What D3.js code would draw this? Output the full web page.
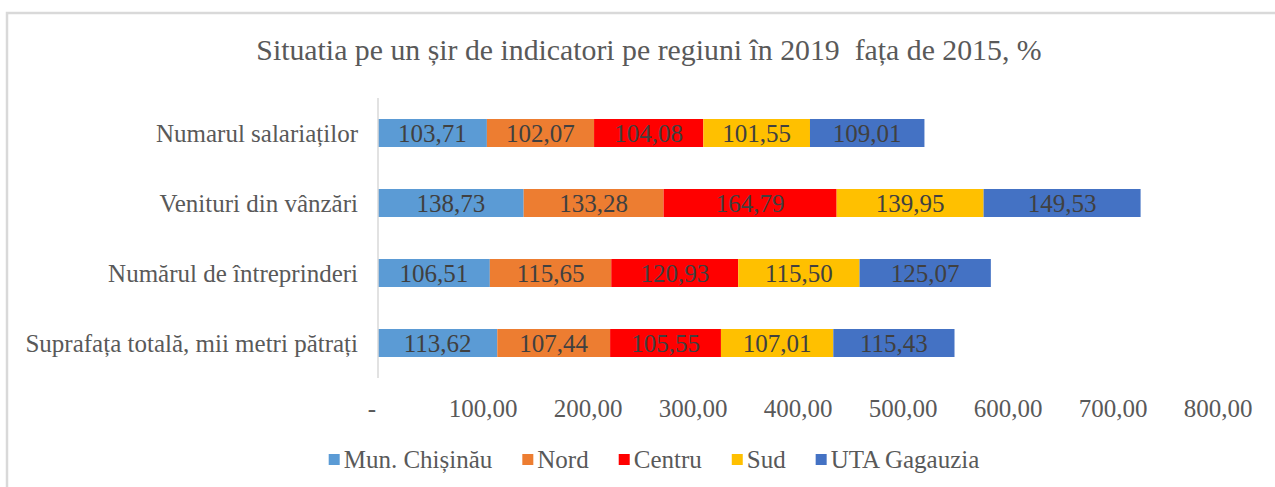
<!DOCTYPE html>
<html>
<head>
<meta charset="utf-8">
<style>
  body { margin: 0; background: #fff; }
  text { font-family: 'Liberation Serif', 'Times New Roman', serif; }
</style>
</head>
<body>
<svg width="1275" height="487"></svg>
<script src="https://cdnjs.cloudflare.com/ajax/libs/d3/7.8.5/d3.min.js"></script>
<script>

// categories, top to bottom
var categories = ["Numarul salariaților", "Venituri din vânzări", "Numărul de întreprinderi", "Suprafața totală, mii metri pătrați"];
var regions = ["Mun. Chișinău", "Nord", "Centru", "Sud", "UTA Gagauzia"];
var colors = ["#5B9BD5", "#ED7D31", "#FF0000", "#FFC000", "#4472C4"];

// values per region, same order as categories
var chisinau = [103.71, 138.73, 106.51, 113.62];
var nord     = [102.07, 133.28, 115.65, 107.44];
var centru   = [104.08, 164.79, 120.93, 105.55];
var sud      = [101.55, 139.95, 115.50, 107.01];
var gagauzia = [109.01, 149.53, 125.07, 115.43];

var tickValues = [0, 100, 200, 300, 400, 500, 600, 700, 800];

var series = [chisinau, nord, centru, sud, gagauzia];
var data = categories.map(function(c, i) {
  var row = {cat: c};
  regions.forEach(function(r, j) { row[r] = series[j][i]; });
  return row;
});

var svg = d3.select("svg");

// chart area border (Excel style)
svg.append("rect")
    .attr("x", 7).attr("y", 13)
    .attr("width", 1300).attr("height", 500)
    .attr("fill", "none")
    .attr("stroke", "#d9d9d9")
    .attr("stroke-width", 2.5);

svg.append("text")
    .attr("x", 649)
    .attr("y", 60)
    .attr("text-anchor", "middle")
    .attr("fill", "#595959")
    .style("font-size", "29.8px")
    .style("white-space", "pre")
    .text("Situatia pe un șir de indicatori pe regiuni în 2019  fața de 2015, %");

var x = d3.scaleLinear().domain([0, 800]).range([378, 1218]);
var y = d3.scaleBand().domain(categories).range([98, 378]).paddingInner(0.6).paddingOuter(0.3);
var z = d3.scaleOrdinal().domain(regions).range(colors);

var stacked = d3.stack().keys(regions)(data);

var layer = svg.selectAll(".serie")
    .data(stacked)
    .enter().append("g")
    .attr("class", "serie")
    .attr("fill", function(d) { return z(d.key); });

layer.selectAll("rect")
    .data(function(d) { return d; })
    .enter().append("rect")
    .attr("x", function(d) { return x(d[0]); })
    .attr("y", function(d) { return y(d.data.cat); })
    .attr("width", function(d) { return x(d[1]) - x(d[0]); })
    .attr("height", y.bandwidth());

var fmt = function(v) { return d3.format(".2f")(v).replace(".", ","); };

layer.selectAll("text")
    .data(function(d) { return d; })
    .enter().append("text")
    .attr("x", function(d) { return (x(d[0]) + x(d[1])) / 2; })
    .attr("y", function(d) { return y(d.data.cat) + y.bandwidth() / 2; })
    .attr("dy", "0.34em")
    .attr("text-anchor", "middle")
    .attr("fill", "#404040")
    .style("font-size", "25px")
    .text(function(d) { return fmt(d[1] - d[0]); });

// vertical axis line
svg.append("line")
    .attr("x1", x(0)).attr("x2", x(0))
    .attr("y1", y.range()[0]).attr("y2", y.range()[1])
    .attr("stroke", "#d9d9d9")
    .attr("stroke-width", 1.5);

// category labels
svg.selectAll(".cat")
    .data(categories)
    .enter().append("text")
    .attr("class", "cat")
    .attr("x", 358)
    .attr("y", function(d) { return y(d) + y.bandwidth() / 2; })
    .attr("dy", "0.34em")
    .attr("text-anchor", "end")
    .attr("fill", "#595959")
    .style("font-size", "25px")
    .text(function(d) { return d; });

// x tick labels
svg.selectAll(".tick")
    .data(tickValues)
    .enter().append("text")
    .attr("class", "tick")
    .attr("x", function(d) { return d === 0 ? x(d) - 6 : x(d); })
    .attr("y", 417)
    .attr("text-anchor", "middle")
    .attr("fill", "#595959")
    .style("font-size", "25px")
    .text(function(d) { return d === 0 ? "-" : fmt(d); });

// legend
var legend = svg.append("g");
var lx = 0;
regions.forEach(function(r) {
  var item = legend.append("g").attr("transform", "translate(" + lx + ",0)");
  item.append("rect")
      .attr("x", 0).attr("y", -14)
      .attr("width", 11).attr("height", 11)
      .attr("fill", z(r));
  var t = item.append("text")
      .attr("x", 15).attr("y", 0)
      .attr("fill", "#595959")
      .style("font-size", "25px")
      .text(r);
  lx += 15 + t.node().getComputedTextLength() + 30;
});
lx -= 30;
legend.attr("transform", "translate(" + (654 - lx / 2) + ",468)");

</script>
</body>
</html>
